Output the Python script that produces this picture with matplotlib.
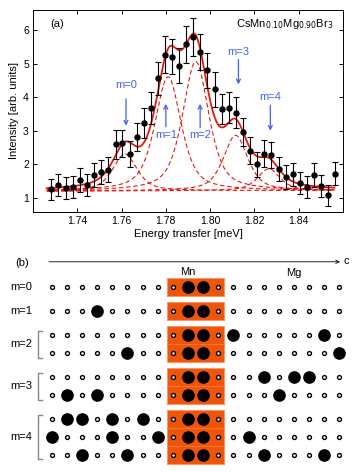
import numpy as np
import matplotlib.pyplot as plt
from matplotlib.patches import Rectangle

plt.rcParams['font.family'] = ['Liberation Sans', 'DejaVu Sans']

# === Panel (a): measured spectrum ===
energy = [1.7282, 1.7315, 1.7347, 1.7380, 1.7410, 1.7444, 1.7477, 1.7509, 1.7540,
          1.7574, 1.7604, 1.7637, 1.7669, 1.7700, 1.7732, 1.7764, 1.7796, 1.7827,
          1.7860, 1.7892, 1.7924, 1.7956, 1.7988, 1.8021, 1.8053, 1.8084, 1.8116,
          1.8150, 1.8180, 1.8213, 1.8244, 1.8276, 1.8309, 1.8341, 1.8373, 1.8405,
          1.8436, 1.8468, 1.8501, 1.8534, 1.8566]
intensity = [1.26, 1.39, 1.29, 1.33, 1.53, 1.38, 1.68, 1.77, 1.84, 2.59, 2.62, 2.30,
             2.81, 3.24, 3.68, 4.56, 5.27, 5.21, 4.94, 5.57, 5.79, 5.35, 4.80, 4.24,
             3.64, 3.69, 3.53, 2.95, 2.40, 2.00, 2.31, 2.27, 1.87, 1.62, 1.70, 1.45,
             1.33, 1.67, 1.34, 1.07, 1.72]
err = [0.31, 0.33, 0.32, 0.33, 0.35, 0.34, 0.35, 0.37, 0.37, 0.42, 0.41, 0.39,
       0.42, 0.45, 0.48, 0.50, 0.54, 0.53, 0.52, 0.55, 0.56, 0.54, 0.53, 0.52,
       0.45, 0.46, 0.46, 0.42, 0.40, 0.38, 0.40, 0.38, 0.36, 0.36, 0.35, 0.33,
       0.33, 0.36, 0.33, 0.31, 0.35]

# fit components (pseudo-Voigt peaks on a linear background)
peak_names = ['m=0', 'm=1', 'm=2', 'm=3', 'm=4']
peak_center = [1.7615, 1.7810, 1.7935, 1.8115, 1.8265]
peak_amp = [1.10, 3.40, 3.85, 1.65, 0.65]
peak_hwhm = [0.0065, 0.0070, 0.0070, 0.0065, 0.0060]
lorentz_frac = 0.6
bg_ends = [1.20, 1.22]   # background at 1.72 and 1.86 meV

# === Panel (b): spin chain pictures ===
row_group = [0, 1, 2, 2, 3, 3, 4, 4, 4]
row_filled = [[], [3], [12, 18], [5, 19], [14, 16, 17], [1, 3, 15],
              [1, 2, 4, 6], [0, 4, 7, 13], [2, 5, 14, 18]]
mn_cols = [8, 9, 10, 11]
mn_filled = [9, 10]
n_sites = 20

red = '#E8180F'
blue = '#4060F0'
orange = '#EE5508'

fig = plt.figure(figsize=(3.55, 4.72), dpi=100)

# ---------------- (a) ----------------
ax = fig.add_axes([0.093, 0.551, 0.873, 0.428])
x = np.linspace(1.7262, 1.8562, 400)
bg = bg_ends[0] + (bg_ends[1] - bg_ends[0]) * (x - 1.72) / 0.14
total = bg.copy()
for c, a, h in zip(peak_center, peak_amp, peak_hwhm):
    r2 = ((x - c) / h) ** 2
    comp = a * (lorentz_frac / (1 + r2) + (1 - lorentz_frac) * np.exp(-np.log(2) * r2))
    total += comp
    ax.plot(x, bg + comp, ls=(0, (4, 2.5)), color=red, lw=0.8)
ax.plot(x, total, color=red, lw=1.3)
ax.errorbar(energy, intensity, yerr=err, fmt='o', color='black', ms=3.6,
            elinewidth=0.8, capsize=2, capthick=0.8, zorder=5)

# arrows marking the modes
arrow_text = [(1.7620, 4.36), (1.7800, 2.86), (1.7955, 2.86), (1.8128, 5.36), (1.8272, 4.00)]
arrow_span = [(3.95, 3.15), (3.12, 3.80), (3.10, 3.80), (5.12, 4.38), (3.76, 3.00)]
for name, (tx, ty), (y0, y1) in zip(peak_names, arrow_text, arrow_span):
    ax.text(tx, ty, name, color=blue, fontsize=8, ha='center', va='center')
    ax.annotate('', xy=(tx, y1), xytext=(tx, y0),
                arrowprops=dict(arrowstyle='->', color=blue, lw=0.9,
                                shrinkA=0, shrinkB=0, mutation_scale=7))

ax.text(0.055, 0.93, '(a)', transform=ax.transAxes, fontsize=8, va='center')
ax.text(0.97, 0.93, r'CsMn$_{0.10}$Mg$_{0.90}$Br$_3$', transform=ax.transAxes,
        fontsize=8, ha='right', va='center')

ax.set_xlim(1.72, 1.86)
ax.set_ylim(0.58, 6.6)
ax.set_xticks([1.74, 1.76, 1.78, 1.80, 1.82, 1.84])
ax.set_yticks([1, 2, 3, 4, 5, 6])
ax.tick_params(direction='in', top=True, right=True, length=3, width=0.7,
               labelsize=7.5, pad=3)
for s in ax.spines.values():
    s.set_linewidth(0.7)
ax.set_xlabel('Energy transfer [meV]', fontsize=8, labelpad=2)
ax.set_ylabel('Intensity [arb. units]', fontsize=8, labelpad=3)

# ---------------- (b) ----------------
bx = fig.add_axes([0, 0, 1, 0.470])
bx.set_xlim(-3.415, 20.03)
bx.set_ylim(10.35, -2.05)
bx.axis('off')

row_y = [i + 0.35 * g for i, g in enumerate(row_group)]

# orange Mn blocks, one per group
for g in sorted(set(row_group)):
    ys = [y for y, rg in zip(row_y, row_group) if rg == g]
    top, bot = min(ys) - 0.52, max(ys) + 0.52
    bx.add_patch(Rectangle((mn_cols[0] - 0.4, top), mn_cols[-1] - mn_cols[0] + 0.8,
                           bot - top, facecolor=orange, edgecolor='#F49A6A',
                           lw=0.8, zorder=1))
    for y in ys[:-1]:
        bx.plot([mn_cols[0] - 0.4, mn_cols[-1] + 0.4], [y + 0.5, y + 0.5],
                color='#F4844A', lw=0.5, zorder=1)
    if len(ys) > 1:
        bx.plot([-0.67, -0.935, -0.935, -0.67],
                [ys[0] - 0.25, ys[0] - 0.25, ys[-1] + 0.25, ys[-1] + 0.25],
                color='#888888', lw=1.0)
    bx.text(-2.75, (ys[0] + ys[-1]) / 2, 'm=%d' % g, fontsize=8, va='center', ha='left')

for y, filled in zip(row_y, row_filled):
    big = [c for c in range(n_sites) if c in filled or c in mn_filled]
    small = [c for c in range(n_sites) if c not in big]
    bx.scatter(small, [y] * len(small), s=8, facecolor='white', edgecolor='black',
               linewidth=1.0, zorder=3)
    bx.scatter(big, [y] * len(big), s=83, color='black', linewidth=0, zorder=3)

bx.annotate('', xy=(19.04, -1.40), xytext=(-0.18, -1.40),
            arrowprops=dict(arrowstyle='->', color='black', lw=0.6,
                            shrinkA=0, shrinkB=0, mutation_scale=6))
bx.text(19.25, -1.42, 'c', fontsize=8, va='center', ha='left')
bx.text(-1.98, -1.34, '(b)', fontsize=8, va='center', ha='center')
bx.text(9.0, -0.82, 'Mn', fontsize=8, va='center', ha='center')
bx.text(15.96, -0.75, 'Mg', fontsize=8, va='center', ha='center')

fig.savefig('out.png', dpi=100)
